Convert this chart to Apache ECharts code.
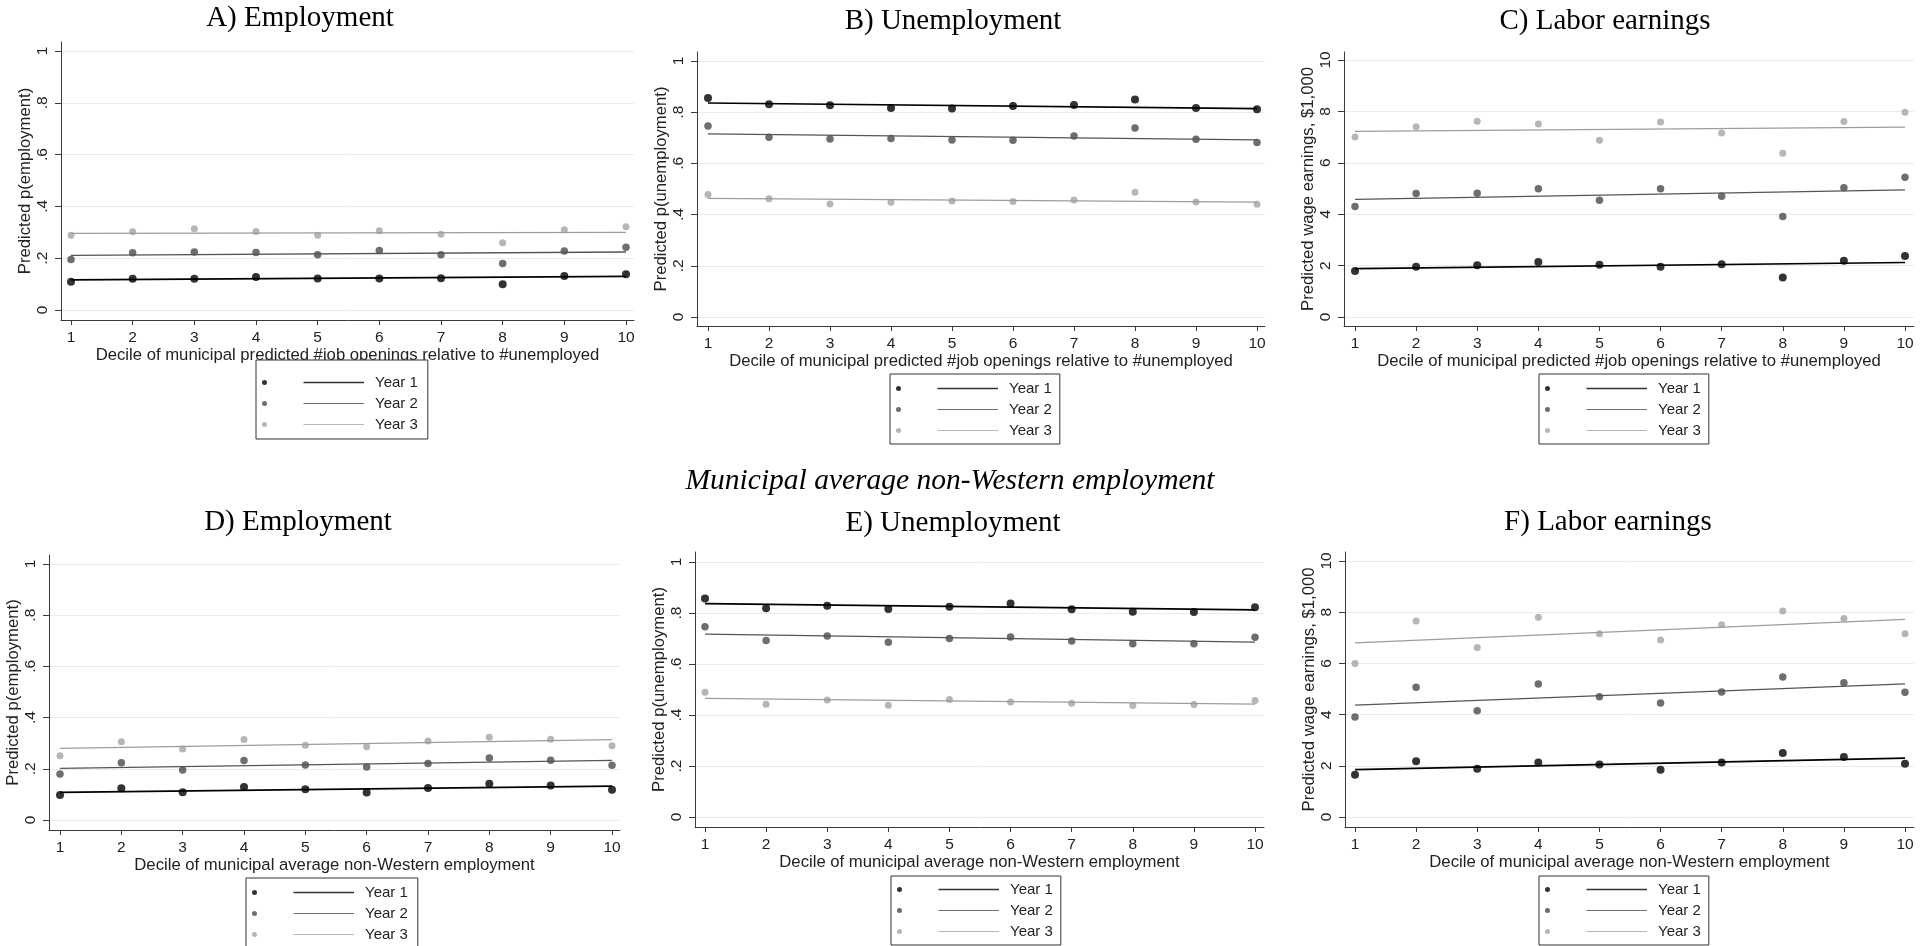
<!DOCTYPE html>
<html><head><meta charset="utf-8">
<script src="https://cdn.jsdelivr.net/npm/echarts@6/dist/echarts.min.js"></script>
<style>html,body{margin:0;padding:0;background:#fff}#c{width:1928px;height:946px}</style>
</head><body><div id="c"></div>
<script>
// ---------- data ----------
const deciles = [1, 2, 3, 4, 5, 6, 7, 8, 9, 10];
const yearNames = ['Year 1', 'Year 2', 'Year 3'];
const probTicks = [0, 0.2, 0.4, 0.6, 0.8, 1];
const earnTicks = [0, 2, 4, 6, 8, 10];
const xNameJobs = 'Decile of municipal predicted #job openings relative to #unemployed';
const xNameWest = 'Decile of municipal average non-Western employment';
const subtitleText = 'Municipal average non-Western employment';

// A) Employment (job openings)
const a_y1 = [0.109, 0.121, 0.121, 0.127, 0.122, 0.122, 0.123, 0.099, 0.131, 0.138];
const a_y2 = [0.195, 0.221, 0.224, 0.222, 0.213, 0.230, 0.213, 0.180, 0.228, 0.242];
const a_y3 = [0.289, 0.302, 0.314, 0.303, 0.289, 0.306, 0.292, 0.260, 0.310, 0.321];
const a_fit = [[0.116, 0.130], [0.211, 0.224], [0.296, 0.300]];
// B) Unemployment (job openings)
const b_y1 = [0.855, 0.831, 0.827, 0.816, 0.814, 0.824, 0.828, 0.850, 0.816, 0.812];
const b_y2 = [0.746, 0.702, 0.695, 0.697, 0.691, 0.690, 0.707, 0.738, 0.694, 0.682];
const b_y3 = [0.479, 0.462, 0.441, 0.448, 0.453, 0.451, 0.457, 0.487, 0.449, 0.440];
const b_fit = [[0.836, 0.814], [0.715, 0.692], [0.463, 0.449]];
// C) Labor earnings (job openings)
const c_y1 = [1.79, 1.96, 2.01, 2.14, 2.03, 1.96, 2.05, 1.54, 2.19, 2.37];
const c_y2 = [4.30, 4.81, 4.82, 4.99, 4.54, 4.99, 4.70, 3.91, 5.03, 5.44];
const c_y3 = [7.00, 7.40, 7.62, 7.51, 6.88, 7.59, 7.16, 6.37, 7.61, 7.97];
const c_fit = [[1.88, 2.12], [4.58, 4.95], [7.22, 7.39]];
// D) Employment (non-Western employment)
const d_y1 = [0.098, 0.124, 0.108, 0.129, 0.120, 0.107, 0.125, 0.142, 0.135, 0.118];
const d_y2 = [0.180, 0.224, 0.195, 0.232, 0.215, 0.207, 0.221, 0.242, 0.233, 0.214];
const d_y3 = [0.251, 0.306, 0.277, 0.314, 0.292, 0.286, 0.309, 0.323, 0.315, 0.290];
const d_fit = [[0.108, 0.132], [0.202, 0.233], [0.280, 0.314]];
// E) Unemployment (non-Western employment)
const e_y1 = [0.857, 0.819, 0.828, 0.816, 0.825, 0.837, 0.815, 0.805, 0.804, 0.823];
const e_y2 = [0.746, 0.692, 0.710, 0.685, 0.700, 0.706, 0.690, 0.679, 0.679, 0.705];
const e_y3 = [0.489, 0.442, 0.459, 0.438, 0.461, 0.451, 0.446, 0.437, 0.441, 0.457];
const e_fit = [[0.837, 0.812], [0.717, 0.686], [0.465, 0.443]];
// F) Labor earnings (non-Western employment)
const f_y1 = [1.65, 2.18, 1.88, 2.13, 2.05, 1.85, 2.13, 2.50, 2.34, 2.08];
const f_y2 = [3.91, 5.07, 4.15, 5.20, 4.70, 4.45, 4.88, 5.47, 5.24, 4.87];
const f_y3 = [6.00, 7.66, 6.62, 7.80, 7.16, 6.91, 7.51, 8.05, 7.75, 7.16];
const f_fit = [[1.85, 2.30], [4.37, 5.20], [6.80, 7.72]];

// ---------- styling & layout ----------
const SANS = "'Liberation Sans', Arial, sans-serif";
const SERIF = "'Liberation Serif', 'Times New Roman', serif";
const dotColors = ['#000000', '#4a4a4a', '#a4a4a4'];
const dotSizes = [8, 7.5, 7];
const lineColors = ['#000000', '#555555', '#9c9c9c'];
const lineWidths = [1.7, 1.3, 1.3];

const panels = [
  { title: 'A) Employment', xName: xNameJobs, yName: 'Predicted p(employment)', ticks: probTicks, yRange: 1,
    pts: [a_y1, a_y2, a_y3], fit: a_fit,
    L: { ax: 61, x1: 71, x10: 626, right: 634, top: 42, yTop: 51, y0: 310, bottom: 320 },
    t: [300, 18], lg: { left: 256, top: 360, pad: [12, 10, 4, 6] } },
  { title: 'B) Unemployment', xName: xNameJobs, yName: 'Predicted p(unemployment)', ticks: probTicks, yRange: 1,
    pts: [b_y1, b_y2, b_y3], fit: b_fit,
    L: { ax: 697, x1: 708, x10: 1257, right: 1265, top: 52, yTop: 61, y0: 317, bottom: 326 },
    t: [953, 21], lg: { left: 890, top: 374, pad: [4, 8, 3, 6] } },
  { title: 'C) Labor earnings', xName: xNameJobs, yName: 'Predicted wage earnings, $1,000', ticks: earnTicks, yRange: 10,
    pts: [c_y1, c_y2, c_y3], fit: c_fit,
    L: { ax: 1344, x1: 1355, x10: 1905, right: 1914, top: 52, yTop: 60, y0: 317, bottom: 326 },
    t: [1605, 21], lg: { left: 1539, top: 374, pad: [4, 8, 3, 6] } },
  { title: 'D) Employment', xName: xNameWest, yName: 'Predicted p(employment)', ticks: probTicks, yRange: 1,
    pts: [d_y1, d_y2, d_y3], fit: d_fit,
    L: { ax: 49, x1: 60, x10: 612, right: 620, top: 555, yTop: 564, y0: 820, bottom: 830 },
    t: [298, 522], lg: { left: 246, top: 878, pad: [4, 10, 3, 6] } },
  { title: 'E) Unemployment', xName: xNameWest, yName: 'Predicted p(unemployment)', ticks: probTicks, yRange: 1,
    pts: [e_y1, e_y2, e_y3], fit: e_fit,
    L: { ax: 695, x1: 705, x10: 1255, right: 1264, top: 552, yTop: 562, y0: 817, bottom: 827 },
    t: [953, 523], lg: { left: 891, top: 876, pad: [3, 8, 3, 6] } },
  { title: 'F) Labor earnings', xName: xNameWest, yName: 'Predicted wage earnings, $1,000', ticks: earnTicks, yRange: 10,
    pts: [f_y1, f_y2, f_y3], fit: f_fit,
    L: { ax: 1345, x1: 1355, x10: 1905, right: 1914, top: 552, yTop: 561, y0: 817, bottom: 827 },
    t: [1608, 522], lg: { left: 1539, top: 876, pad: [3, 8, 3, 6] } }
];

function legendIcon(k) {
  const h = k === 0 ? [1.75, 3.25] : [2, 3];
  return 'path://M0,2.5A2.5,2.5,0,1,1,5,2.5A2.5,2.5,0,1,1,0,2.5Z M41.5,' + h[0] + 'H102V' + h[1] + 'H41.5Z';
}
function probFmt(v) {
  if (v === 0) return '0';
  if (v === 1) return '1';
  return String(+v.toFixed(2)).replace(/^0/, '');
}

const grid = [], xAxis = [], yAxis = [], series = [], legend = [], graphic = [];
panels.forEach((p, i) => {
  const L = p.L;
  const sx = (L.x10 - L.x1) / 9;
  const uy = (L.y0 - L.yTop) / p.yRange;
  grid.push({ left: L.ax, top: L.top, width: L.right - L.ax, height: L.bottom - L.top, containLabel: false });
  xAxis.push({
    type: 'value', gridIndex: i,
    min: 1 - (L.x1 - L.ax) / sx, max: 10 + (L.right - L.x10) / sx,
    name: p.xName, nameLocation: 'middle', nameGap: 24,
    nameTextStyle: { fontFamily: SANS, fontSize: 16.7, color: '#222' },
    axisLine: { show: true, onZero: false, lineStyle: { color: '#3a3a3a', width: 1 } },
    axisTick: { show: true, length: 5, customValues: deciles, lineStyle: { color: '#3a3a3a' } },
    axisLabel: { customValues: deciles, margin: 10, fontFamily: SANS, fontSize: 15.5, color: '#222' },
    splitLine: { show: false }
  });
  yAxis.push({
    type: 'value', gridIndex: i,
    min: -(L.bottom - L.y0) / uy, max: p.yRange + (L.yTop - L.top) / uy,
    name: p.yName, nameLocation: 'middle', nameGap: 27,
    nameTextStyle: { fontFamily: SANS, fontSize: 16.7, color: '#222' },
    axisLine: { show: true, onZero: false, lineStyle: { color: '#3a3a3a', width: 1 } },
    axisTick: { show: true, length: 6, customValues: p.ticks, lineStyle: { color: '#3a3a3a' } },
    axisLabel: { customValues: p.ticks, rotate: 90, margin: 10, fontFamily: SANS, fontSize: 15.5, color: '#222',
      formatter: p.yRange === 1 ? probFmt : (v) => String(v) },
    splitLine: { show: true, lineStyle: { color: '#ececec', width: 1 } }
  });
  for (let k = 0; k < 3; k++) {
    series.push({
      type: 'scatter', name: yearNames[k], xAxisIndex: i, yAxisIndex: i,
      data: deciles.map((d, j) => [d, p.pts[k][j]]),
      symbol: 'circle', symbolSize: dotSizes[k], itemStyle: { color: dotColors[k] },
      silent: true, z: 2, animation: false
    });
  }
  for (let k = 0; k < 3; k++) {
    series.push({
      type: 'line', name: yearNames[k], xAxisIndex: i, yAxisIndex: i,
      data: [[deciles[0], p.fit[k][0]], [deciles[9], p.fit[k][1]]],
      symbol: 'none', lineStyle: { color: lineColors[k], width: lineWidths[k] },
      silent: true, z: 3, animation: false
    });
  }
  legend.push({
    orient: 'vertical', left: p.lg.left, top: p.lg.top, height: 63, width: 170, padding: p.lg.pad,
    itemWidth: 102, itemHeight: 5, itemGap: 0, selectedMode: false,
    backgroundColor: '#fff', borderColor: '#333', borderWidth: 1, borderRadius: 0,
    textStyle: { fontFamily: SANS, fontSize: 15, color: '#222', lineHeight: 21, padding: [0, 0, 0, 6] },
    data: yearNames.map((n, k) => ({ name: n, icon: legendIcon(k), itemStyle: { color: dotColors[k] } }))
  });
  graphic.push({
    type: 'text', x: p.t[0], y: p.t[1], silent: true,
    style: { text: p.title, fontFamily: SERIF, fontSize: 29, fill: '#000', align: 'center', verticalAlign: 'middle' }
  });
});
graphic.push({
  type: 'text', x: 950, y: 481, silent: true,
  style: { text: subtitleText, fontFamily: SERIF, fontSize: 29.5, fontStyle: 'italic', fill: '#000', align: 'center', verticalAlign: 'middle' }
});

const chart = echarts.init(document.getElementById('c'), null, { renderer: 'canvas' });
chart.setOption({
  animation: false,
  backgroundColor: '#ffffff',
  grid, xAxis, yAxis, series, legend, graphic
});
</script>
</body></html>
